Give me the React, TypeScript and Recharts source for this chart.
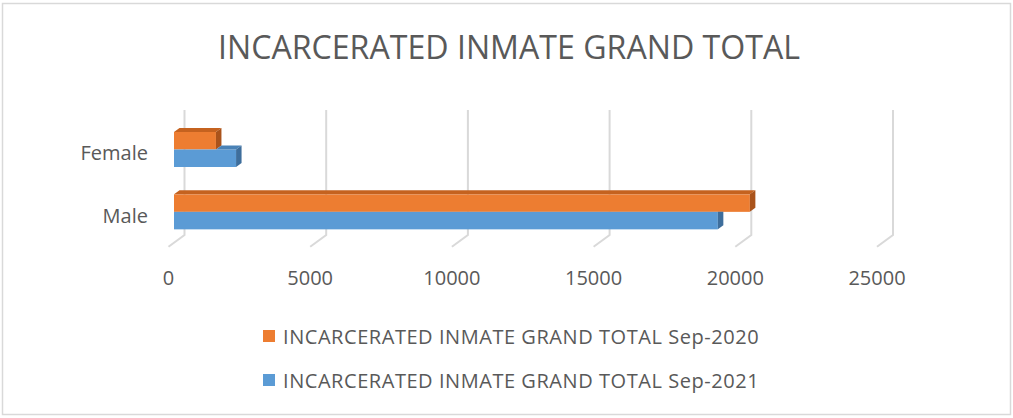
import { BarChart, Bar, XAxis, YAxis, CartesianGrid } from 'recharts'

const categories = ['Female', 'Male']
const sep2020 = [1480, 20320]
const sep2021 = [2190, 19190]
const xTicks = [0, 5000, 10000, 15000, 20000, 25000]
const seriesNames = [
  'INCARCERATED INMATE GRAND TOTAL Sep-2020',
  'INCARCERATED INMATE GRAND TOTAL Sep-2021',
]
const title = 'INCARCERATED INMATE GRAND TOTAL'

const data = categories.map((name, i) => ({ name, sep2020: sep2020[i], sep2021: sep2021[i] }))

const FONT = '"Open Sans", "Liberation Sans", sans-serif'
const TEXT = '#595959'
const DX = 5.5
const DY = 4

// orange bar sits on top of the blue one, all faces visible
function OrangeBar(props: any) {
  const { x, y, width, height } = props
  if (!width) return null
  return (
    <g>
      <rect x={x} y={y} width={width} height={height} fill="#ED7D31" />
      <polygon
        points={`${x},${y} ${x + DX},${y - DY} ${x + width + DX},${y - DY} ${x + width},${y}`}
        fill="#C5621F"
      />
      <polygon
        points={`${x + width},${y} ${x + width + DX},${y - DY} ${x + width + DX},${y + height - DY} ${x + width},${y + height}`}
        fill="#AA531B"
      />
    </g>
  )
}

// blue bar: hide what the orange bar above it covers
function BlueBar(props: any) {
  const { x, y, width, height, payload } = props
  if (!width) return null
  const end = x + width
  const orangeEnd = x + (width * payload.sep2020) / payload.sep2021
  const longer = end > orangeEnd
  return (
    <g>
      <rect x={x} y={y} width={width} height={height} fill="#5B9BD5" />
      {longer && (
        <polygon
          points={`${orangeEnd},${y} ${orangeEnd + DX},${y - DY} ${end + DX},${y - DY} ${end},${y}`}
          fill="#4A82B6"
        />
      )}
      <polygon
        points={
          longer
            ? `${end},${y} ${end + DX},${y - DY} ${end + DX},${y + height - DY} ${end},${y + height}`
            : `${end},${y} ${end + DX},${y} ${end + DX},${y + height - DY} ${end},${y + height}`
        }
        fill="#3E6E9C"
      />
    </g>
  )
}

function GridLine(props: any) {
  const { x1, y1, y2 } = props
  const pts = `${x1 + 10.5},${y1 - 8} ${x1 + 10.5},${y2 - 7.7} ${x1 - 5.5},${y2 + 4}`
  return <polyline key={props.key} points={pts} fill="none" stroke="#D9D9D9" strokeWidth={2} />
}

function XTick(props: any) {
  const { x, payload } = props
  return (
    <text x={x - 5.5} y={284.6} textAnchor="middle" fontSize={20} fontFamily={FONT} fill={TEXT}>
      {payload.value}
    </text>
  )
}

function YTick(props: any) {
  const { y, payload } = props
  return (
    <text x={148} y={y + 11} textAnchor="end" fontSize={20} fontFamily={FONT} fill={TEXT}>
      {payload.value}
    </text>
  )
}

export default function App() {
  const legendColors = ['#ED7D31', '#5B9BD5']
  return (
    <div style={{ position: 'absolute', left: 0, top: 0, width: 1013, height: 418, background: '#fff' }}>
      <svg width={1013} height={418} style={{ position: 'absolute', left: 0, top: 0 }}>
        <rect x={2.5} y={3.5} width={1008} height={411} fill="#fff" stroke="#D9D9D9" strokeWidth={1.5} />
        <text
          x={509}
          y={59.3}
          textAnchor="middle"
          fontSize={32}
          fontFamily={FONT}
          fill={TEXT}
          textLength={582}
          lengthAdjust="spacingAndGlyphs"
        >
          {title}
        </text>
      </svg>
      <div style={{ position: 'absolute', left: 0, top: 0 }}>
        <BarChart
          width={1013}
          height={418}
          data={data}
          layout="vertical"
          barSize={17.5}
          barGap={0}
          margin={{ top: 118, right: 130.5, bottom: 135.3, left: 74 }}
        >
          <CartesianGrid horizontal={false} vertical={GridLine} />
          <XAxis
            type="number"
            domain={[0, 25000]}
            ticks={xTicks}
            axisLine={false}
            tickLine={false}
            height={40}
            tick={XTick}
            interval={0}
          />
          <YAxis
            type="category"
            dataKey="name"
            width={100}
            axisLine={false}
            tickLine={false}
            tick={YTick}
          />
          <Bar dataKey="sep2020" name={seriesNames[0]} shape={OrangeBar} isAnimationActive={false} />
          <Bar dataKey="sep2021" name={seriesNames[1]} shape={BlueBar} isAnimationActive={false} />
        </BarChart>
      </div>
      {seriesNames.map((s, i) => (
        <div
          key={s}
          style={{
            position: 'absolute',
            left: 263,
            top: 322 + i * 44,
            height: 28,
            display: 'flex',
            alignItems: 'center',
            fontFamily: FONT,
            fontSize: 20,
            color: TEXT,
            whiteSpace: 'nowrap',
          }}
        >
          <span style={{ width: 12, height: 12, background: legendColors[i], marginRight: 8 }} />
          <span style={{ letterSpacing: 0.55 }}>{s}</span>
        </div>
      ))}
    </div>
  )
}
